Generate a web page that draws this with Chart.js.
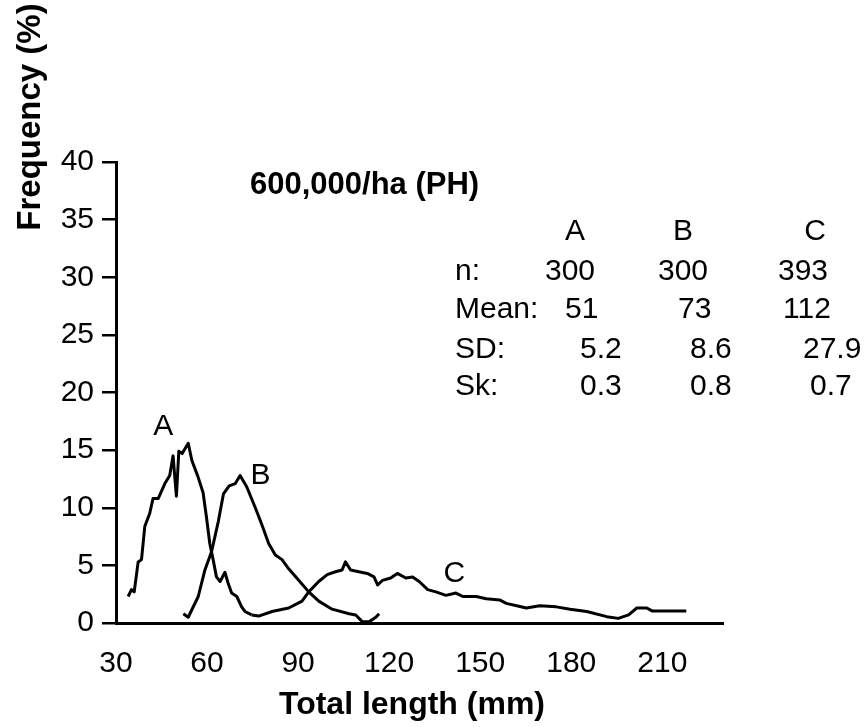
<!DOCTYPE html>
<html>
<head>
<meta charset="utf-8">
<script src="https://cdn.jsdelivr.net/npm/chart.js@4.4.0/dist/chart.umd.min.js"></script>
<style>
  html, body { margin: 0; padding: 0; background: #fff; }
  canvas { display: block; }
</style>
</head>
<body>
<canvas id="lengthChart" width="867" height="727"></canvas>
<script>
// curve A
const aLength = [34.0, 35.1, 36.0, 37.3, 38.4, 39.5, 41.1, 42.2, 43.9, 46.1, 47.7, 48.8, 49.9, 50.7, 51.8, 53.8, 55.0, 57.0, 58.7, 59.8, 60.9, 62.0, 63.1, 64.3, 65.9, 67.0, 68.1, 69.8, 71.4, 72.5, 74.7];
const aFreq = [2.3, 2.9, 2.7, 5.3, 5.5, 8.4, 9.5, 10.8, 10.8, 12.1, 12.8, 14.5, 11.0, 14.9, 14.7, 15.6, 14.1, 12.7, 11.3, 9.2, 6.9, 5.5, 4.0, 3.6, 4.4, 3.4, 2.6, 2.3, 1.4, 1.0, 0.7];

// curve B
const bLength = [52.2, 53.8, 57.1, 59.3, 61.5, 63.7, 65.4, 67.3, 69.3, 70.9, 73.1, 75.9, 78.1, 80.3, 82.5, 84.7, 86.9, 90.2, 93.5, 96.8, 101.2, 106.8, 109.0, 111.2, 113.4, 115.6, 116.7];
const bFreq = [0.8, 0.5, 2.3, 4.6, 6.2, 8.8, 11.2, 11.9, 12.1, 12.8, 11.8, 10.0, 8.5, 6.9, 5.9, 5.5, 4.7, 3.7, 2.7, 1.9, 1.2, 0.8, 0.7, 0.1, 0.1, 0.5, 0.8];

// curve C
const cLength = [74.7, 77.0, 81.4, 86.9, 91.3, 93.5, 96.8, 99.6, 102.3, 104.5, 105.6, 107.3, 110.0, 112.8, 115.0, 116.2, 117.8, 120.5, 122.7, 125.5, 127.7, 129.9, 132.7, 135.4, 138.7, 142.0, 144.3, 148.7, 152.0, 156.4, 158.6, 162.0, 165.2, 169.6, 175.1, 179.6, 185.1, 191.7, 195.5, 198.9, 201.6, 204.9, 206.6, 210.4, 217.9];
const cFreq = [0.7, 0.6, 1.0, 1.3, 1.9, 2.7, 3.6, 4.2, 4.45, 4.6, 5.3, 4.6, 4.45, 4.3, 4.0, 3.3, 3.7, 3.9, 4.3, 3.9, 4.0, 3.6, 2.9, 2.7, 2.4, 2.6, 2.3, 2.3, 2.1, 2.0, 1.7, 1.5, 1.3, 1.5, 1.4, 1.2, 1.0, 0.55, 0.4, 0.7, 1.3, 1.3, 1.05, 1.05, 1.05];

const xTicks = [30, 60, 90, 120, 150, 180, 210];

// letters next to the curves (in data units)
const curveNames = ['A', 'B', 'C'];
const curveLabelX = [45.6, 77.6, 141.5];
const curveLabelY = [17.0, 12.75, 4.25];

// summary table
const statRows = ['n:', 'Mean:', 'SD:', 'Sk:'];
const statN = ['300', '300', '393'];
const statMean = ['51', '73', '112'];
const statSD = ['5.2', '8.6', '27.9'];
const statSk = ['0.3', '0.8', '0.7'];

function toPoints(xs, ys) {
    return xs.map((x, i) => ({ x: x, y: ys[i] }));
}

const fam = '"Liberation Sans", Arial, sans-serif';
const textFont = '30px ' + fam;

const annotations = {
    id: 'annotations',
    afterDraw(chart) {
        const ctx = chart.ctx;
        const xs = chart.scales.x;
        const ys = chart.scales.y;
        ctx.save();
        ctx.fillStyle = '#000';
        ctx.textBaseline = 'middle';

        ctx.font = textFont;
        ctx.textAlign = 'center';
        curveNames.forEach((n, i) => {
            ctx.fillText(n, xs.getPixelForValue(curveLabelX[i]), ys.getPixelForValue(curveLabelY[i]));
        });

        ctx.font = 'bold 31px ' + fam;
        ctx.textAlign = 'left';
        ctx.fillText('600,000/ha (PH)', 250, 185);

        // axis titles
        ctx.font = 'bold 32px ' + fam;
        ctx.textAlign = 'center';
        ctx.fillText('Total length (mm)', 412, 705);

        ctx.save();
        ctx.font = 'bold 33px ' + fam;
        ctx.translate(31, 117);
        ctx.rotate(-Math.PI / 2);
        ctx.fillText('Frequency (%)', 0, 0);
        ctx.restore();

        // table
        ctx.font = textFont;
        const headX = [575, 683, 815];
        ctx.textAlign = 'center';
        curveNames.forEach((n, i) => ctx.fillText(n, headX[i], 232));

        const rowY = [272, 310, 350, 387];
        const valueX = [[545, 658, 778], [565, 678, 783], [580, 690, 803], [580, 690, 810]];
        const values = [statN, statMean, statSD, statSk];
        ctx.textAlign = 'left';
        statRows.forEach((r, i) => {
            ctx.fillText(r, 455, rowY[i]);
            values[i].forEach((v, j) => ctx.fillText(v, valueX[i][j], rowY[i]));
        });
        ctx.restore();
    }
};

Chart.defaults.font.family = fam;
Chart.defaults.color = '#000';

const lineStyle = {
    borderColor: '#000',
    borderWidth: 3,
    pointRadius: 0,
    tension: 0,
    fill: false,
    borderJoinStyle: 'round'
};

const chart = new Chart(document.getElementById('lengthChart').getContext('2d'), {
    type: 'line',
    data: {
        datasets: [
            Object.assign({ label: 'A', data: toPoints(aLength, aFreq) }, lineStyle),
            Object.assign({ label: 'B', data: toPoints(bLength, bFreq) }, lineStyle),
            Object.assign({ label: 'C', data: toPoints(cLength, cFreq) }, lineStyle)
        ]
    },
    options: {
        responsive: false,
        animation: false,
        layout: {
            padding: { top: 162, right: 144, left: 0, bottom: 0 }
        },
        plugins: {
            legend: { display: false },
            tooltip: { enabled: false }
        },
        scales: {
            x: {
                type: 'linear',
                min: 30,
                max: 230,
                afterBuildTicks: function (scale) {
                    scale.ticks = xTicks.map(v => ({ value: v }));
                },
                afterFit: function (scale) {
                    scale.height = 104;
                },
                grid: { display: false, drawTicks: false },
                border: { display: true, color: '#000', width: 3 },
                ticks: {
                    font: { size: 30 },
                    padding: 23,
                    maxRotation: 0,
                    autoSkip: false
                }
            },
            y: {
                min: 0,
                max: 40,
                afterFit: function (scale) {
                    scale.width = 116;
                },
                grid: {
                    drawOnChartArea: false,
                    drawTicks: true,
                    tickLength: 14,
                    color: '#000',
                    lineWidth: 2.5
                },
                border: { display: true, color: '#000', width: 3 },
                ticks: {
                    stepSize: 5,
                    font: { size: 30 },
                    padding: 8
                }
            }
        }
    },
    plugins: [annotations]
});
</script>
</body>
</html>
